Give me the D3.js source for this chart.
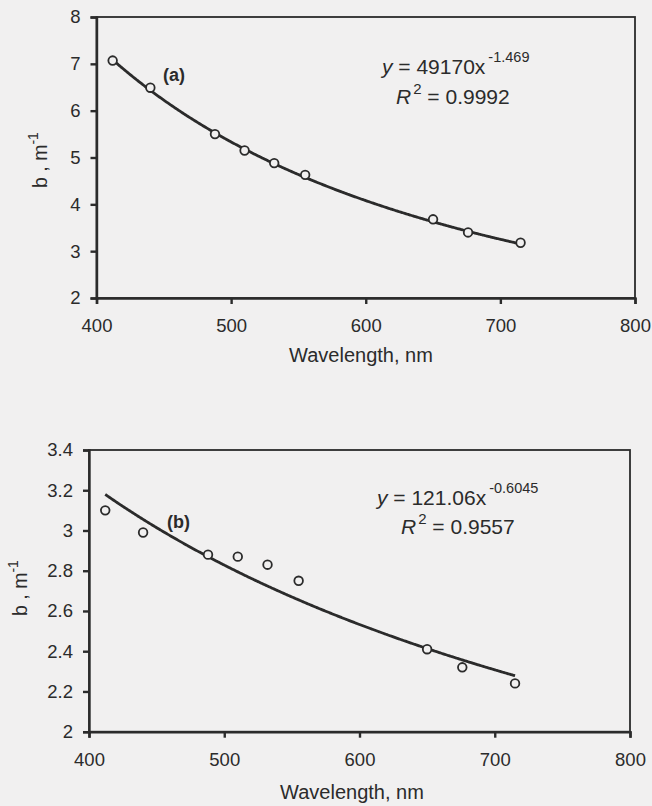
<!DOCTYPE html>
<html>
<head>
<meta charset="utf-8">
<script src="https://cdn.jsdelivr.net/npm/d3@7"></script>
<style>
  body { margin: 0; background: #f1f0f0; }
  svg { display: block; }
  text { font-family: "Liberation Sans", Arial, sans-serif; fill: #2b2b2b; }
</style>
</head>
<body>
<div id="chart"></div>
<script>
var svgWidth = 652;
var svgHeight = 806;

// wavelengths of the measurements (nm)
var wavelengths = [412, 440, 488, 510, 532, 555, 650, 676, 715];

// scattering coefficient b
var bA = [7.07, 6.49, 5.50, 5.15, 4.88, 4.63, 3.68, 3.40, 3.18];
var bB = [3.10, 2.99, 2.88, 2.87, 2.83, 2.75, 2.41, 2.32, 2.24];

// power-law fits y = a * x^k
var fitA = { a: 49170, k: -1.469, eq: "y = 49170x", exp: "-1.469", r2: "0.9992" };
var fitB = { a: 121.06, k: -0.6045, eq: "y = 121.06x", exp: "-0.6045", r2: "0.9557" };

var xTicks = [400, 500, 600, 700, 800];
var yTicksA = [2, 3, 4, 5, 6, 7, 8];
var yTicksB = [2, 2.2, 2.4, 2.6, 2.8, 3, 3.2, 3.4];

var svg = d3.select("#chart")
  .append("svg")
  .attr("width", svgWidth)
  .attr("height", svgHeight);

var ink = "#2b2b2b";
var paper = "#f1f0f0";

function drawPanel(opts) {
  var x = d3.scaleLinear().domain([400, 800]).range([opts.left, opts.right]);
  var y = d3.scaleLinear().domain(opts.yDomain).range([opts.bottom, opts.top]);

  var g = svg.append("g");

  // plot frame
  g.append("rect")
    .attr("x", opts.left)
    .attr("y", opts.top)
    .attr("width", opts.right - opts.left)
    .attr("height", opts.bottom - opts.top)
    .attr("fill", "none")
    .attr("stroke", ink)
    .attr("stroke-width", 1.8);

  // axes
  var bottomAxis = d3.axisBottom(x).tickValues(xTicks).tickSize(6).tickPadding(15)
    .tickFormat(d3.format("d"));
  var leftAxis = d3.axisLeft(y).tickValues(opts.yTicks).tickSize(6).tickPadding(10)
    .tickFormat(opts.yFormat);

  var xAxis = g.append("g")
    .attr("transform", `translate(0, ${opts.bottom})`)
    .call(bottomAxis);
  var yAxis = g.append("g")
    .attr("transform", `translate(${opts.left}, 0)`)
    .call(leftAxis);

  [xAxis, yAxis].forEach(function(ax) {
    ax.select(".domain").attr("stroke", ink).attr("stroke-width", 2.4);
    ax.selectAll(".tick line").attr("stroke", ink).attr("stroke-width", 2.4);
    ax.selectAll(".tick text")
      .attr("font-size", 18.5)
      .attr("font-family", "Liberation Sans, Arial, sans-serif")
      .attr("fill", ink);
  });

  // fitted curve
  var fitWl = d3.range(wavelengths[0], wavelengths[wavelengths.length - 1] + 1, 1);
  var line = d3.line()
    .x(d => x(d))
    .y(d => y(opts.fit.a * Math.pow(d, opts.fit.k)))
    .curve(d3.curveMonotoneX);

  g.append("path")
    .datum(fitWl)
    .attr("d", line)
    .attr("fill", "none")
    .attr("stroke", ink)
    .attr("stroke-width", 2.8);

  // measured points
  g.selectAll("circle.pt")
    .data(wavelengths.map((w, i) => [w, opts.values[i]]))
    .enter()
    .append("circle")
    .attr("class", "pt")
    .attr("cx", d => x(d[0]))
    .attr("cy", d => y(d[1]))
    .attr("r", 4.3)
    .attr("fill", paper)
    .attr("stroke", ink)
    .attr("stroke-width", 1.8);

  // panel tag
  g.append("text")
    .attr("x", opts.tag[0])
    .attr("y", opts.tag[1])
    .attr("font-size", 18)
    .attr("font-weight", "bold")
    .text(opts.tagText);

  // equation
  var eq = g.append("text")
    .attr("x", opts.eqPos[0])
    .attr("y", opts.eqPos[1])
    .attr("font-size", 21);
  eq.append("tspan").attr("font-style", "italic").text("y");
  eq.append("tspan").text(opts.fit.eq.slice(1));
  eq.append("tspan").attr("dy", -12).attr("dx", 3).attr("font-size", 14.5).text(opts.fit.exp);

  var r2 = g.append("text")
    .attr("x", opts.r2Pos[0])
    .attr("y", opts.r2Pos[1])
    .attr("font-size", 21);
  r2.append("tspan").attr("font-style", "italic").text("R");
  r2.append("tspan").attr("dy", -10).attr("dx", 2).attr("font-size", 15).text("2");
  r2.append("tspan").attr("dy", 10).text(" = " + opts.fit.r2);

  // axis titles
  g.append("text")
    .attr("x", opts.xTitle[0])
    .attr("y", opts.xTitle[1])
    .attr("text-anchor", "middle")
    .attr("font-size", 20)
    .text("Wavelength, nm");

  var yt = g.append("text")
    .attr("transform", `translate(${opts.yTitle[0]}, ${opts.yTitle[1]}) rotate(-90)`)
    .attr("text-anchor", "middle")
    .attr("font-size", 19.5);
  yt.append("tspan").text("b , m");
  yt.append("tspan").attr("dy", -9).attr("font-size", 14).text("-1");
}

drawPanel({
  left: 96.5, right: 635, top: 17, bottom: 298,
  yDomain: [2, 8], yTicks: yTicksA, yFormat: d3.format("d"),
  values: bA, fit: fitA,
  tag: [163, 81], tagText: "(a)",
  eqPos: [382, 74], r2Pos: [396, 104],
  xTitle: [361, 362], yTitle: [47, 160]
});

drawPanel({
  left: 89, right: 630, top: 450, bottom: 731.7,
  yDomain: [2, 3.4], yTicks: yTicksB, yFormat: d => d3.format("")(+d.toFixed(1)),
  values: bB, fit: fitB,
  tag: [167, 528], tagText: "(b)",
  eqPos: [377, 505], r2Pos: [401, 534],
  xTitle: [352, 799], yTitle: [27, 588]
});
</script>
</body>
</html>
